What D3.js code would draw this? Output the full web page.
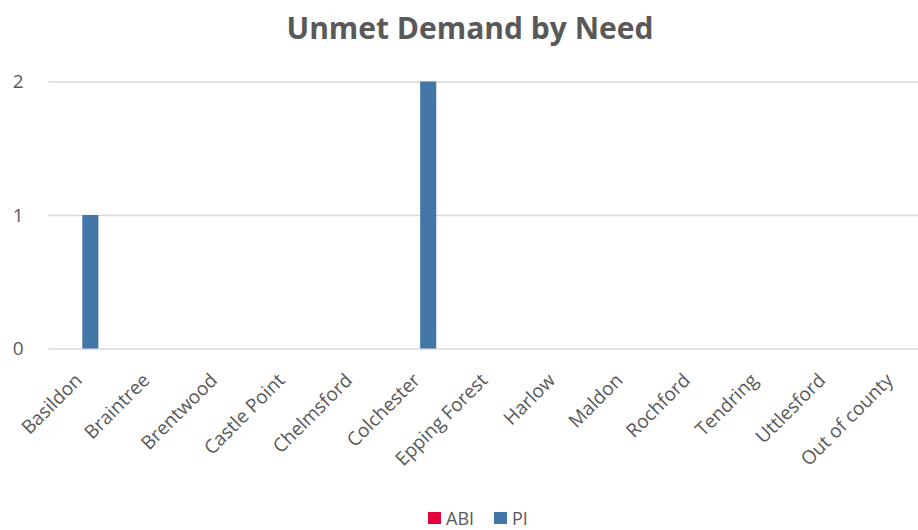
<!DOCTYPE html>
<html><head><meta charset="utf-8">
<script src="https://cdn.jsdelivr.net/npm/d3@7"></script>
<style>body{margin:0;background:#fff}svg{display:block}</style>
</head><body>
<svg id="c" width="918" height="530"></svg>
<script>
const categories = ["Basildon","Braintree","Brentwood","Castle Point","Chelmsford","Colchester","Epping Forest","Harlow","Maldon","Rochford","Tendring","Uttlesford","Out of county"];
const seriesNames = ["ABI","PI"];
const abiValues = [0,0,0,0,0,0,0,0,0,0,0,0,0];
const piValues  = [1,0,0,0,0,2,0,0,0,0,0,0,0];
const yTicks = [0,1,2];
const colors = ["#E4003B","#4275A8"];

const svg = d3.select("#c");
const font = "'Open Sans', sans-serif";
const x = d3.scaleBand().domain(categories).range([48.5, 927]).paddingInner(0).paddingOuter(0);
const sub = d3.scaleBand().domain(seriesNames).range([0, x.bandwidth()]).paddingInner(0).paddingOuter(1.1);
const y = d3.scaleLinear().domain([0,2]).range([348.5, 81.5]);

svg.append("text").attr("x",470).attr("y",39).attr("text-anchor","middle")
  .attr("font-family",font).attr("font-weight","bold").attr("font-size",30).attr("fill","#595959")
  .text("Unmet Demand by Need");

const ya = svg.append("g").attr("transform","translate(48.5,0)")
  .call(d3.axisLeft(y).tickValues(yTicks).tickSize(-(927-48.5)).tickFormat(d3.format("d")));
ya.select(".domain").remove();
ya.selectAll("line").attr("stroke","#d9d9d9").attr("stroke-width",1.3);
ya.selectAll("text").attr("font-family",font).attr("font-size",19).attr("fill","#595959").attr("x",-25).attr("text-anchor","end");

const data = categories.map((c,i)=>({c, vals:[abiValues[i], piValues[i]]}));
const g = svg.append("g");
data.forEach(d=>{
  seriesNames.forEach((s,j)=>{
    const v = d.vals[j];
    if (v>0) g.append("rect").attr("x", x(d.c)+sub(s)).attr("width", sub.bandwidth())
      .attr("y", y(v)).attr("height", y(0)-y(v)).attr("fill", colors[j]);
  });
});

const xa = svg.append("g").attr("transform","translate(0,348.5)")
  .call(d3.axisBottom(x).tickSize(0));
xa.select(".domain").remove();
xa.selectAll("text").attr("font-family",font).attr("font-size",19).attr("fill","#595959")
  .attr("text-anchor","end").attr("dy","0")
  .attr("transform","translate(1,33) rotate(-45)").attr("y",0).attr("x",0);

const legend = svg.append("g");
const lx = [428, 494];
seriesNames.forEach((s,j)=>{
  legend.append("rect").attr("x",lx[j]).attr("y",512).attr("width",13).attr("height",12).attr("fill",colors[j]);
  legend.append("text").attr("x",lx[j]+18).attr("y",524.5).attr("font-family",font).attr("font-size",18)
    .attr("fill","#595959").text(s);
});
</script>
</body></html>
